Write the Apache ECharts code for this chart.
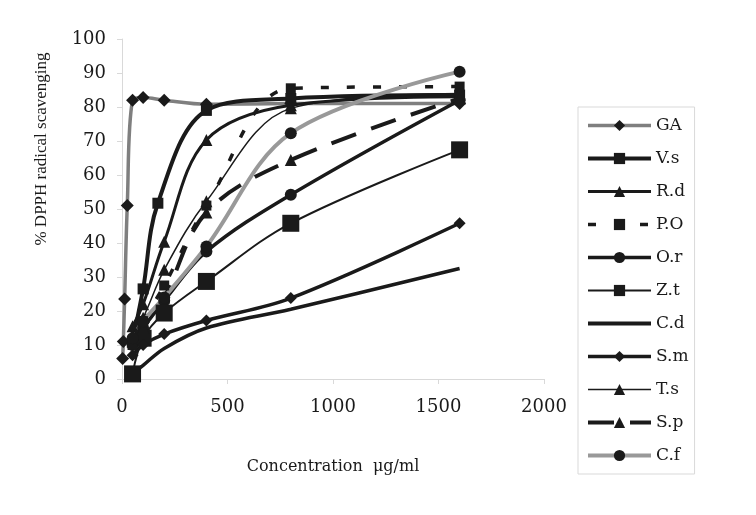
<!DOCTYPE html>
<html>
<head>
<meta charset="utf-8">
<script src="https://cdn.jsdelivr.net/npm/echarts@6/dist/echarts.min.js"></script>
<style>html,body{margin:0;padding:0;background:#fff}#c{width:756px;height:515px}</style>
</head>
<body>
<div id="c"></div>
<script>
// ---- data ----
const seriesNames = ['GA', 'V.s', 'R.d', 'P.O', 'O.r', 'Z.t', 'C.d', 'S.m', 'T.s', 'S.p', 'C.f'];
const xTicks = [0, 500, 1000, 1500, 2000];
const yTicks = [0, 10, 20, 30, 40, 50, 60, 70, 80, 90, 100];

const xGA = [3.125, 6.25, 12.5, 25, 50, 100, 200, 400, 800, 1600];
const yGA = [6, 11, 23.5, 51, 82, 82.8, 82, 80.8, 81, 81];
const xVs = [50, 100, 170, 400, 800, 1600];
const yVs = [11, 26.5, 51.7, 79, 82.5, 83.5];
const xRd = [50, 100, 200, 400, 800, 1600];
const yRd = [15.5, 22, 40.4, 70.3, 80.5, 83];
const xPO = [50, 100, 200, 400, 800, 1600];
const yPO = [10, 17, 27.5, 51, 85.5, 86];
const xOr = [50, 100, 200, 400, 800, 1600];
const yOr = [10, 15, 23, 37.5, 54.2, 82];
const xZt = [50, 100, 200, 400, 800, 1600];
const yZt = [1.5, 12, 19.4, 28.7, 45.8, 67.4];
const xCd = [50, 100, 200, 400, 800, 1600];
const yCd = [1.5, 4, 9, 15, 20.5, 32.5];
const xSm = [50, 100, 200, 400, 800, 1600];
const ySm = [7, 10, 13.2, 17.2, 23.8, 45.8];
const xTs = [50, 100, 200, 400, 800, 1600];
const yTs = [13, 18, 32.1, 52.3, 79.6, 84];
const xSp = [50, 100, 200, 400, 800, 1600];
const ySp = [11, 15, 24, 49, 64.4, 82.5];
const xCf = [50, 100, 200, 400, 800, 1600];
const yCf = [12, 17, 24, 39, 72.3, 90.4];

const pairs = (xs, ys) => xs.map((x, i) => [x, ys[i]]);
const SERIF = 'DejaVu Serif';
const TITLE_FONT = 'Liberation Serif';

function mk(name, xs, ys, color, width, type, symbol, size) {
  return {
    name: name, type: 'line', data: pairs(xs, ys),
    smooth: 0.35,
    symbol: symbol, symbolSize: size, showSymbol: symbol !== 'none',
    lineStyle: { color: color, width: width, type: type },
    itemStyle: { color: '#1a1a1a', borderWidth: 0 },
    emphasis: { disabled: true },
    animation: false
  };
}

const series = [
  mk('GA', xGA, yGA, '#7f7f7f', 3.5, 'solid', 'diamond', 13),
  mk('V.s', xVs, yVs, '#1a1a1a', 4, 'solid', 'rect', 11),
  mk('R.d', xRd, yRd, '#1a1a1a', 3, 'solid', 'triangle', 12),
  mk('P.O', xPO, yPO, '#1a1a1a', 3.5, [8, 18], 'rect', 10),
  mk('O.r', xOr, yOr, '#1a1a1a', 3.5, 'solid', 'circle', 12),
  mk('Z.t', xZt, yZt, '#1a1a1a', 2, 'solid', 'rect', 17),
  mk('C.d', xCd, yCd, '#1a1a1a', 3.5, 'solid', 'none', 0),
  mk('S.m', xSm, ySm, '#1a1a1a', 3.5, 'solid', 'diamond', 12),
  mk('T.s', xTs, yTs, '#1a1a1a', 1.5, 'solid', 'triangle', 12),
  mk('S.p', xSp, ySp, '#1a1a1a', 4, [26, 16], 'triangle', 12),
  mk('C.f', xCf, yCf, '#999999', 4, 'solid', 'circle', 12)
];

const legendData = seriesNames.map(n => n === 'C.d'
  ? { name: n, icon: 'path://M0,0H63V4H0Z' }
  : { name: n });

const chart = echarts.init(document.getElementById('c'), null, { renderer: 'canvas' });
chart.setOption({
  backgroundColor: '#ffffff',
  animation: false,
  grid: { left: 122, right: 212, top: 39, bottom: 136, containLabel: false },
  xAxis: {
    type: 'value', min: xTicks[0], max: xTicks[xTicks.length - 1], interval: 500,
    name: 'Concentration  μg/ml', nameLocation: 'middle', nameGap: 80,
    nameTextStyle: { fontFamily: SERIF, fontSize: 16, color: '#1a1a1a' },
    axisLine: { show: true, lineStyle: { color: '#d9d9d9', width: 1 } },
    axisTick: { show: true, length: 5, lineStyle: { color: '#d9d9d9' } },
    axisLabel: { fontFamily: SERIF, fontSize: 18, color: '#1a1a1a', margin: 19,
      formatter: v => String(v) },
    splitLine: { show: false }
  },
  yAxis: {
    type: 'value', min: yTicks[0], max: yTicks[yTicks.length - 1], interval: 10,
    name: '% DPPH radical scavenging', nameLocation: 'middle', nameGap: 72,
    nameTextStyle: { fontFamily: TITLE_FONT, fontSize: 17, color: '#1a1a1a',
      padding: [0, 0, 0, 120] },
    axisLine: { show: true, lineStyle: { color: '#d9d9d9', width: 1 } },
    axisTick: { show: true, length: 5, lineStyle: { color: '#d9d9d9' } },
    axisLabel: { fontFamily: SERIF, fontSize: 18, color: '#1a1a1a', margin: 16,
      formatter: v => String(v) },
    splitLine: { show: false }
  },
  legend: {
    orient: 'vertical', left: 578, top: 107,
    data: legendData,
    itemWidth: 63, itemHeight: 14, itemGap: 16,
    padding: [10, 6, 10, 8],
    borderColor: '#d9d9d9', borderWidth: 1,
    lineStyle: { width: 'inherit' },
    textStyle: { fontFamily: SERIF, fontSize: 17, color: '#1a1a1a', lineHeight: 17 },
    selectedMode: false
  },
  series: series
});
</script>
</body>
</html>
